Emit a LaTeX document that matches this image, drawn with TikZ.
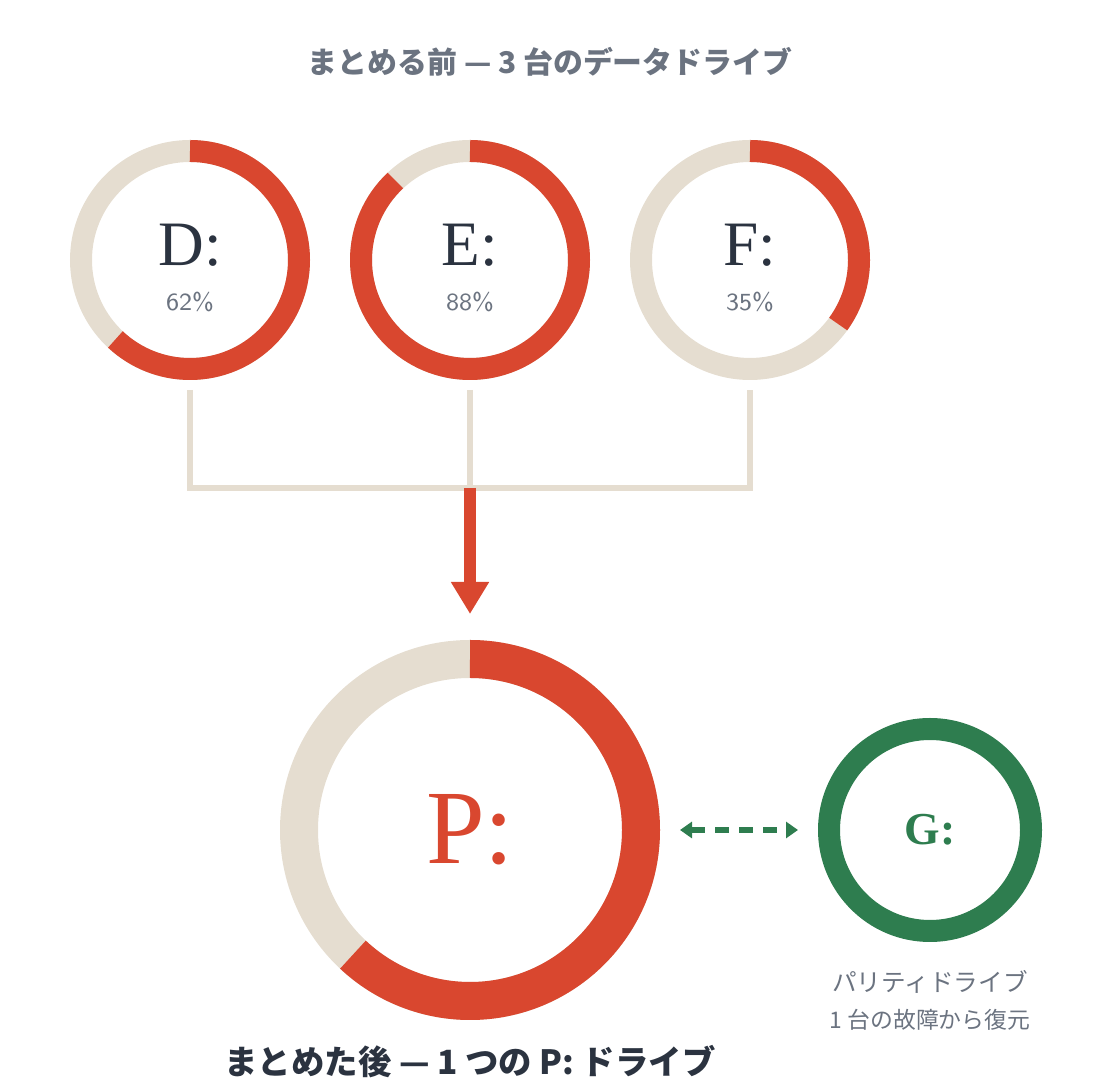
\documentclass[tikz,border=0pt]{standalone}
\usepackage{fontspec}
\setmainfont{Liberation Serif}
\newfontfamily\cjk{Noto Sans CJK JP}
\usetikzlibrary{arrows.meta}
\definecolor{beige}{HTML}{E5DDD0}
\definecolor{brick}{HTML}{D9472F}
\definecolor{leaf}{HTML}{2E7D4F}
\definecolor{slate}{HTML}{6B7380}
\definecolor{ink}{HTML}{2B3340}
\tikzstyle{track} = [draw=beige, line width=0.22cm]
\tikzstyle{fill} = [draw=brick, line width=0.22cm]
\tikzstyle{drive} = [font=\fontsize{18}{18}\selectfont, text=ink]
\tikzstyle{pct} = [font=\fontsize{7}{7}\selectfont\sffamily, text=slate]
\tikzstyle{pipe} = [draw=beige, line width=0.06cm]
\begin{document}
\begin{tikzpicture}
            \useasboundingbox (0,0) rectangle (11,10.8);
            \node (title) [font=\cjk\fontsize{8.5}{8.5}\selectfont\bfseries, text=slate] at (5.5,10.18) {まとめる前 — 3 台のデータドライブ};

            % three small drives
            \foreach \x/\name/\p in {1.9/D/62, 4.7/E/88, 7.5/F/35}
            {
                \draw [track] (\x,8.2) circle (1.09);
                \draw [fill] (\x,9.29) arc (90:90-3.6*\p:1.09);
                \node (\name) [drive] at (\x,8.35) {\name:};
                \node (\name p) [pct] at (\x,7.78) {\p\%};
                \coordinate (\name top) at (\x,6.9);
                \coordinate (\name bot) at (\x,5.92);
            }
            \draw [pipe] (Dtop) -- (Dbot) -- (Fbot) -- (Ftop);
            \draw [pipe] (Etop) -- (Ebot);

            % merged drive
            \coordinate (Pc) at (4.7,2.5);
            \draw [draw=beige, line width=0.38cm] (Pc) circle (1.71);
            \draw [draw=brick, line width=0.38cm] (4.7,4.21) arc (90:90-3.6*62:1.71);
            \node (P) [font=\fontsize{30}{30}\selectfont, text=brick] at (Pc) {P:};
            \coordinate (Ptop) at (4.7,4.66);
            \draw [-{Triangle[width=0.36cm,length=0.32cm]}, draw=brick, line width=0.12cm] (Ebot) -- (Ptop);

            % parity drive
            \draw [draw=leaf, line width=0.22cm] (9.3,2.5) circle (1.01);
            \node (G) [font=\fontsize{13}{13}\selectfont\bfseries, text=leaf] at (9.3,2.5) {G:};
            \coordinate (Pr) at (6.8,2.5);
            \coordinate (Gl) at (7.98,2.5);
            \draw [{Triangle[width=0.16cm,length=0.12cm]}-{Triangle[width=0.16cm,length=0.12cm]}, draw=leaf, line width=0.06cm, dash pattern=on 0.14cm off 0.1cm] (Pr) -- (Gl);

            \node (Gl1) [font=\cjk\fontsize{7}{7}\selectfont, text=slate] at (9.3,0.98) {パリティドライブ};
            \node (Gl2) [font=\cjk\fontsize{6.5}{6.5}\selectfont, text=slate] at (9.3,0.6) {1 台の故障から復元};
            \node (after) [font=\cjk\fontsize{9.5}{9.5}\selectfont\bfseries, text=ink] at (4.7,0.18) {まとめた後 — 1 つの P: ドライブ};
        \end{tikzpicture}
\end{document}
